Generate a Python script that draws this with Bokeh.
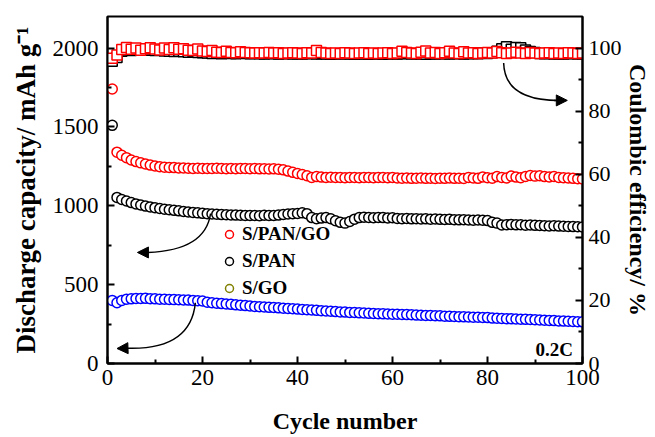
from bokeh.plotting import figure
from bokeh.models import (Range1d, LinearAxis, FixedTicker, Legend, LegendItem,
                          Arrow, NormalHead)
from bokeh.core.properties import value
from bokeh.embed import file_html
from bokeh.resources import INLINE

cycles = list(range(1, 101))

cap_spango = [
    1740, 1340, 1320, 1305, 1290, 1280, 1272, 1265, 1258, 1252,
    1248, 1245, 1243, 1242, 1240, 1240, 1238, 1237, 1238, 1236,
    1237, 1236, 1238, 1236, 1235, 1236, 1235, 1237, 1236, 1235,
    1236, 1234, 1235, 1233, 1234, 1232, 1228, 1220, 1212, 1205,
    1198, 1190, 1180, 1185, 1182, 1180, 1181, 1179, 1180, 1178,
    1180, 1179, 1178, 1180, 1179, 1178, 1180, 1179, 1178, 1180,
    1176, 1175, 1176, 1174, 1175, 1176, 1174, 1175, 1173, 1175,
    1174, 1176, 1174, 1175, 1173, 1180, 1176, 1174, 1183, 1178,
    1175, 1185, 1180, 1176, 1188, 1182, 1178, 1186, 1192, 1188,
    1190, 1185, 1183, 1186, 1180, 1178, 1176, 1174, 1172, 1170]

cap_span = [
    1510, 1053, 1040, 1030, 1020, 1012, 1005, 998, 993, 988,
    983, 978, 975, 971, 968, 964, 961, 958, 955, 952,
    950, 948, 946, 944, 943, 942, 941, 940, 939, 938,
    938, 937, 940, 939, 938, 941, 945, 948, 950, 951,
    955, 950, 925, 918, 922, 925, 918, 905, 895, 890,
    900, 915, 925, 928, 926, 924, 926, 925, 923, 924,
    920, 918, 919, 917, 918, 916, 917, 915, 916, 914,
    913, 914, 912, 911, 912, 910, 909, 910, 908, 906,
    895, 890, 878, 880, 882, 879, 880, 877, 878, 876,
    875, 874, 872, 873, 871, 870, 869, 868, 867, 866]

cap_sgo = [
    400, 385, 400, 408, 410, 412, 412, 413, 411, 410,
    408, 407, 406, 405, 404, 403, 402, 400, 398, 396,
    388, 385, 382, 380, 378, 375, 372, 370, 367, 365,
    362, 360, 358, 356, 355, 353, 351, 349, 347, 345,
    343, 341, 339, 337, 335, 333, 331, 329, 327, 326,
    324, 323, 321, 320, 318, 317, 316, 315, 314, 313,
    312, 311, 310, 309, 307, 306, 305, 304, 303, 302,
    300, 299, 298, 297, 296, 295, 294, 293, 292, 291,
    288, 287, 285, 284, 283, 282, 281, 280, 279, 278,
    276, 275, 273, 272, 270, 269, 268, 266, 265, 264]

ce_spango = [
    96.8, 97.8, 99.5, 100.2, 99.6, 100.0, 99.3, 99.8, 100.1, 99.7,
    99.4, 100.0, 99.5, 100.1, 99.6, 99.8, 99.3, 99.2, 99.7, 99.1,
    98.9, 99.2, 98.7, 98.6, 99.0, 98.6, 98.5, 98.8, 98.6, 98.5,
    98.4, 98.5, 98.4, 98.6, 98.4, 98.5, 98.3, 98.4, 98.5, 98.4,
    98.3, 98.5, 98.4, 99.2, 98.6, 98.4, 98.3, 98.4, 98.3, 98.5,
    98.4, 98.3, 98.4, 98.5, 98.3, 98.4, 98.3, 98.4, 98.5, 98.3,
    98.4, 99.0, 98.6, 98.4, 98.3, 98.7, 99.1, 98.4, 98.6, 98.3,
    98.5, 99.0, 98.4, 98.3, 98.8, 98.4, 98.5, 98.3, 98.4, 98.6,
    98.4, 98.9, 98.5, 98.3, 98.4, 98.7, 98.4, 98.3, 98.6, 98.4,
    98.3, 98.4, 98.5, 98.3, 98.4, 98.3, 98.5, 98.4, 98.3, 98.4]

ce_span = [
    95.8, 97.0, 99.0, 99.4, 99.2, 99.5, 99.6, 99.3, 99.4, 99.2,
    99.3, 99.1, 99.0, 98.9, 99.0, 98.8, 98.7, 98.9, 98.6, 98.5,
    98.4, 98.3, 98.5, 98.2, 98.4, 98.3, 98.2, 98.4, 98.3, 98.2,
    98.3, 98.2, 98.1, 98.3, 98.2, 98.1, 98.2, 98.3, 98.1, 98.2,
    98.1, 98.2, 98.3, 98.1, 98.2, 98.1, 98.0, 98.2, 98.1, 98.2,
    98.1, 98.0, 98.2, 98.1, 98.0, 98.2, 98.1, 98.0, 98.1, 98.2,
    98.1, 98.2, 98.3, 98.1, 98.2, 98.1, 98.0, 98.2, 98.1, 98.2,
    98.2, 98.1, 98.3, 98.2, 98.1, 98.2, 98.3, 98.2, 98.4, 98.3,
    98.5, 99.0, 99.8, 100.4, 99.6, 100.2, 100.1, 99.4, 98.9, 98.6,
    98.3, 98.2, 98.3, 98.1, 98.2, 98.1, 98.2, 98.3, 98.1, 98.2]

series_names = ["S/PAN/GO", "S/PAN", "S/GO"]
x_ticks = [0, 20, 40, 60, 80, 100]
x_minor = [10, 30, 50, 70, 90]
left_ticks = [0, 500, 1000, 1500, 2000]
left_minor = [250, 750, 1250, 1750]
right_ticks = [0, 20, 40, 60, 80, 100]
right_minor = [10, 30, 50, 70, 90]

FONT = "Liberation Serif"

p = figure(width=655, height=437, output_backend="svg", toolbar_location=None,
           x_range=Range1d(0, 100), y_range=Range1d(0, 2200),
           min_border_left=107, min_border_right=73, min_border_top=16,
           min_border_bottom=74)
p.extra_y_ranges = {"ce": Range1d(0, 110)}
p.xgrid.visible = False
p.ygrid.visible = False
p.outline_line_color = "black"
p.outline_line_width = 2
p.background_fill_color = "white"
p.border_fill_color = "white"

right_axis = LinearAxis(y_range_name="ce")
p.add_layout(right_axis, "right")

p.xaxis.ticker = FixedTicker(ticks=x_ticks, minor_ticks=x_minor)
p.yaxis[0].ticker = FixedTicker(ticks=left_ticks, minor_ticks=left_minor)
right_axis.ticker = FixedTicker(ticks=right_ticks, minor_ticks=right_minor)

p.xaxis.axis_label = "Cycle number"
p.yaxis[0].axis_label = "Discharge capacity/ mAh g\u207B\u00B9"
right_axis.axis_label = "Coulombic efficiency/ %"

for ax in [p.xaxis[0], p.yaxis[0], right_axis]:
    ax.axis_line_width = 2
    ax.axis_line_color = "black"
    ax.major_tick_line_width = 2
    ax.minor_tick_line_width = 2
    ax.major_tick_in = 7
    ax.major_tick_out = 0
    ax.minor_tick_in = 4
    ax.minor_tick_out = 0
    ax.major_label_text_font = FONT
    ax.major_label_text_font_size = "23px"
    ax.major_label_text_color = "black"
    ax.axis_label_text_font = FONT
    ax.axis_label_text_font_style = "bold"
    ax.axis_label_text_color = "black"
    ax.major_label_standoff = 9
p.xaxis[0].axis_label_text_font_size = "24px"
p.xaxis[0].major_label_standoff = 6
p.xaxis[0].axis_label_standoff = 20
p.yaxis[0].axis_label_text_font_size = "27px"
p.yaxis[0].axis_label_standoff = 9
right_axis.major_label_text_font_size = "22px"
right_axis.major_label_standoff = 6
right_axis.axis_label_text_font_size = "24px"
right_axis.axis_label_standoff = 0

# Coulombic efficiency (squares)
p.scatter(cycles, ce_span, marker="square", size=10, fill_color="white",
          line_color="black", line_width=1.5, y_range_name="ce")
p.scatter(cycles, ce_spango, marker="square", size=10, fill_color="white",
          line_color="red", line_width=1.5, y_range_name="ce")

# Discharge capacity (circles)
r_sgo = p.scatter(cycles, cap_sgo, marker="circle", size=10, fill_color="white",
                  line_color="blue", line_width=1.5)
r_span = p.scatter(cycles, cap_span, marker="circle", size=10, fill_color="white",
                   line_color="black", line_width=1.5)
r_spango = p.scatter(cycles, cap_spango, marker="circle", size=10, fill_color="white",
                     line_color="red", line_width=1.5)
# legend-only renderer (olive marker as in the original legend); NaN -> not drawn in plot
r_sgo_leg = p.scatter([float("nan")], [float("nan")], marker="circle", size=10,
                      fill_color="white", line_color="#808000", line_width=1.5)

legend = Legend(items=[LegendItem(label=series_names[0], renderers=[r_spango]),
                       LegendItem(label=series_names[1], renderers=[r_span]),
                       LegendItem(label=series_names[2], renderers=[r_sgo_leg])],
                location=(112, 64), padding=0, margin=0, spacing=5,
                glyph_width=20, glyph_height=22, label_height=22,
                label_standoff=3, border_line_color=None,
                background_fill_alpha=0,
                label_text_font=FONT, label_text_font_style="bold",
                label_text_font_size="19px", label_text_color="black")
p.add_layout(legend, "center")

# Rate label
p.text(x=[98], y=[90], text=["0.2C"], text_align="right", text_baseline="middle",
       text_font=value(FONT), text_font_style="bold", text_font_size="19px",
       text_color="black")

# Curved arrows
p.quadratic(x0=[83.4, 21.7, 18.5], y0=[1905, 951, 385],
            x1=[95.0, 8.5, 4.0], y1=[1668, 704, 97],
            cx=[83.6, 20.6, 17.5], cy=[1668, 717, 82],
            line_color="black", line_width=1.5)
for xs, ys, xe, ye in [(94.0, 1668, 96.8, 1668), (8.5, 704, 6.3, 704),
                       (4.0, 97, 2.0, 95)]:
    p.add_layout(Arrow(end=NormalHead(size=11, fill_color="black", line_color="black"),
                       x_start=xs, y_start=ys, x_end=xe, y_end=ye,
                       line_color="black", line_width=1.5))

open("out.html", "w").write(file_html(p, INLINE))
